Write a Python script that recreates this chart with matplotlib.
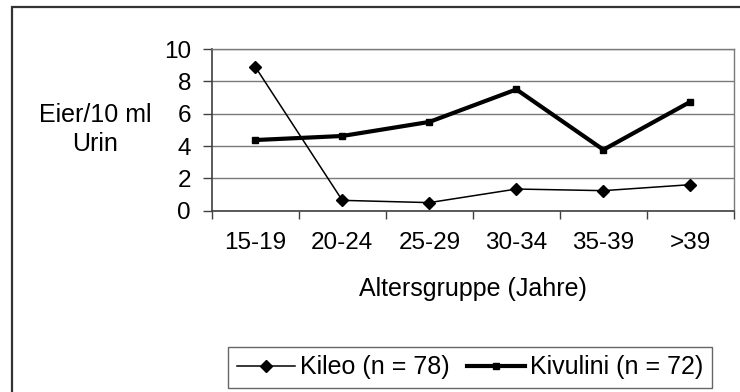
import matplotlib
matplotlib.use('Agg')
import matplotlib.pyplot as plt
from matplotlib.patches import Rectangle

plt.rcParams['font.family'] = ['Liberation Sans', 'DejaVu Sans']

# data
groups = ['15-19', '20-24', '25-29', '30-34', '35-39', '>39']
kileo = [8.9, 0.64, 0.5, 1.34, 1.24, 1.61]
kivulini = [4.37, 4.62, 5.49, 7.5, 3.77, 6.74]
yticks = [0, 2, 4, 6, 8, 10]

W, H = 740, 392
fig = plt.figure(figsize=(W / 100, H / 100), dpi=100)
fig.patch.set_facecolor('white')

# plot area (pixel box)
x0, x1, ytop, ybot = 211.7, 734, 49, 210.7
ax = fig.add_axes([x0 / W, 1 - ybot / H, (x1 - x0) / W, (ybot - ytop) / H])

x = list(range(len(groups)))
ax.plot(x, kileo, color='black', lw=1.1, marker='D', ms=6.5, label='Kileo (n = 78)', zorder=3)
ax.plot(x, kivulini, color='black', lw=3.0, marker='s', ms=5, label='Kivulini (n = 72)', zorder=3)

ax.set_xlim(-0.5, len(groups) - 0.5)
ax.set_ylim(0, 10)
ax.set_yticks(yticks)
# category boundaries get the tick marks, centres get the labels
ax.set_xticks([i - 0.5 for i in range(len(groups) + 1)])
ax.set_xticklabels([])
ax.set_xticks(x, minor=True)
ax.set_xticklabels(groups, minor=True)

ax.tick_params(axis='y', length=6.5, width=1.0, color='#404040', pad=8.4, labelsize=17.5)
ax.tick_params(axis='x', which='major', length=5.5, width=1.0, color='#404040')
ax.tick_params(axis='x', which='minor', length=0, pad=15, labelsize=17.5)

ax.grid(axis='y', color='#7a7a7a', lw=1.0)
ax.set_axisbelow(True)
for side in ['left', 'bottom']:
    ax.spines[side].set_color('#404040')
    ax.spines[side].set_linewidth(1.2)
ax.spines['right'].set_color('#7a7a7a')
ax.spines['right'].set_linewidth(1.0)
ax.spines['top'].set_color('#7a7a7a')
ax.spines['top'].set_linewidth(1.0)

ax.set_xlabel('Altersgruppe (Jahre)', fontsize=18, labelpad=17)
ax.set_ylabel('Eier/10 ml\nUrin', fontsize=18, rotation=0, ha='center', va='center',
              multialignment='center', linespacing=1.25)
ax.yaxis.set_label_coords((95.5 - x0) / (x1 - x0), 0.5)

leg = fig.legend(loc='lower left', bbox_to_anchor=(228 / W, 1 - 388 / H), ncol=2,
                 fontsize=18, frameon=True, fancybox=False, borderaxespad=0,
                 handlelength=2.33, handletextpad=0.2, columnspacing=0.7,
                 borderpad=0.35)
leg.get_frame().set_edgecolor('#404040')
leg.get_frame().set_linewidth(1.0)

# outer chart border (only left and top visible in the crop)
fig.patches.append(Rectangle((12 / W, -0.5), 2, 1.5 - 7 / H, transform=fig.transFigure,
                             fill=False, edgecolor='#333333', lw=1.6))

fig.savefig('out.png', dpi=100, facecolor='white')
